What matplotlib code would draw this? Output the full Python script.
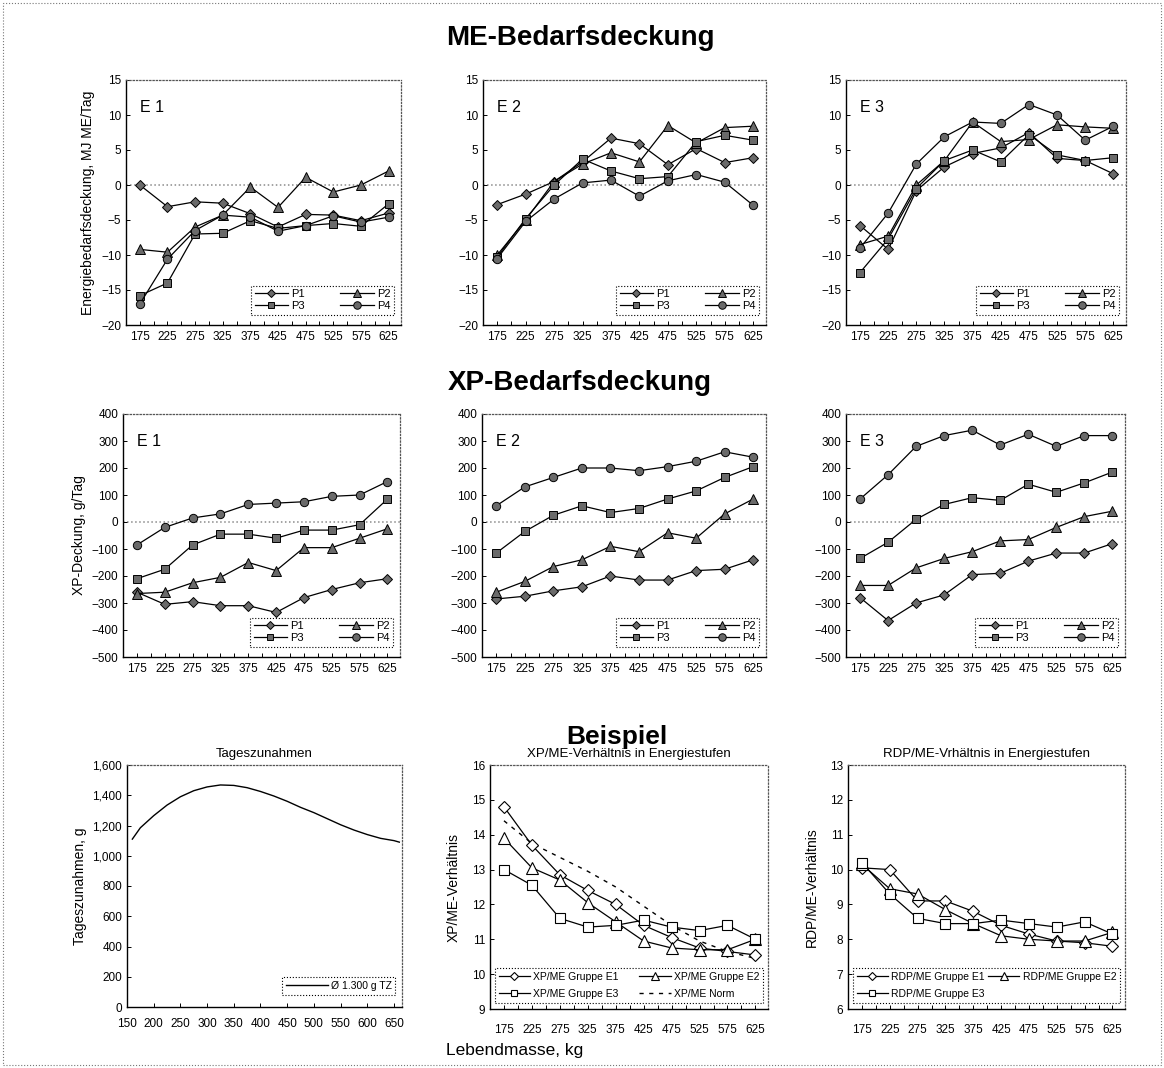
import matplotlib
matplotlib.use("Agg")
import matplotlib.pyplot as plt
from matplotlib.patches import Rectangle
from matplotlib.ticker import FuncFormatter

plt.rcParams['font.family'] = ['Liberation Sans', 'DejaVu Sans']

W, H = 1164, 1068

# Lebendmasse-Klassen (kg)
masse = ['175', '225', '275', '325', '375', '425', '475', '525', '575', '625']

# ME-Bedarfsdeckung, MJ ME/Tag
me_e1_p1 = [0.0, -3.1, -2.4, -2.6, -4.1, -6.0, -4.2, -4.3, -5.1, -4.0]
me_e1_p2 = [-9.2, -9.6, -6.0, -4.3, -0.3, -3.2, 1.1, -1.0, 0.0, 2.0]
me_e1_p3 = [-15.8, -14.0, -7.0, -6.9, -5.1, -6.2, -5.8, -5.5, -5.9, -2.7]
me_e1_p4 = [-17.0, -10.6, -6.5, -4.3, -4.6, -6.6, -5.8, -4.4, -5.3, -4.6]

me_e2_p1 = [-2.8, -1.3, 0.5, 3.3, 6.7, 5.9, 2.9, 5.2, 3.2, 3.9]
me_e2_p2 = [-10.0, -5.0, 0.5, 3.0, 4.6, 3.3, 8.5, 6.0, 8.2, 8.4]
me_e2_p3 = [-10.3, -4.8, 0.0, 3.7, 2.0, 0.9, 1.2, 6.2, 7.1, 6.4]
me_e2_p4 = [-10.5, -5.2, -2.0, 0.3, 0.7, -1.6, 0.6, 1.5, 0.4, -2.9]

me_e3_p1 = [-5.8, -9.2, -0.8, 2.6, 4.5, 5.3, 7.5, 3.8, 3.5, 1.6]
me_e3_p2 = [-8.5, -7.3, 0.0, 3.5, 9.0, 6.2, 6.5, 8.6, 8.3, 8.1]
me_e3_p3 = [-12.5, -7.7, -0.5, 3.5, 5.0, 3.3, 7.2, 4.3, 3.5, 3.9]
me_e3_p4 = [-9.0, -4.0, 3.0, 6.9, 9.0, 8.8, 11.5, 10.0, 6.4, 8.4]

# XP-Bedarfsdeckung, g/Tag
xp_e1_p1 = [-260, -305, -295, -310, -310, -335, -280, -250, -225, -210]
xp_e1_p2 = [-265, -260, -225, -205, -150, -180, -95, -95, -60, -25]
xp_e1_p3 = [-210, -175, -85, -45, -45, -60, -30, -30, -10, 85]
xp_e1_p4 = [-85, -20, 15, 30, 65, 70, 75, 95, 100, 150]

xp_e2_p1 = [-285, -275, -255, -240, -200, -215, -215, -180, -175, -140]
xp_e2_p2 = [-260, -220, -165, -140, -90, -110, -40, -60, 30, 85]
xp_e2_p3 = [-115, -35, 25, 60, 35, 50, 85, 115, 165, 205]
xp_e2_p4 = [60, 130, 165, 200, 200, 190, 205, 225, 260, 240]

xp_e3_p1 = [-280, -365, -300, -270, -195, -190, -145, -115, -115, -80]
xp_e3_p2 = [-235, -235, -170, -135, -110, -70, -65, -20, 20, 40]
xp_e3_p3 = [-135, -75, 10, 65, 90, 80, 140, 110, 145, 185]
xp_e3_p4 = [85, 175, 280, 320, 340, 285, 325, 280, 320, 320]

# Beispiel: Tageszunahmen
tz_masse = [160, 175, 200, 225, 250, 275, 300, 325, 350, 375, 400, 425,
            450, 475, 500, 525, 550, 575, 600, 625, 650, 660]
tz_gramm = [1110, 1185, 1265, 1335, 1390, 1430, 1455, 1468, 1465, 1450, 1425,
            1395, 1360, 1320, 1285, 1245, 1205, 1170, 1140, 1115, 1100, 1090]

# XP/ME-Verhaeltnis
xpme_e1 = [14.8, 13.7, 12.85, 12.4, 12.0, 11.4, 11.05, 10.75, 10.65, 10.55]
xpme_e2 = [13.9, 13.05, 12.7, 12.05, 11.5, 10.95, 10.75, 10.7, 10.7, 11.0]
xpme_e3 = [13.0, 12.55, 11.6, 11.35, 11.4, 11.55, 11.35, 11.25, 11.4, 11.0]
xpme_norm = [14.4, 13.75, 13.35, 12.95, 12.5, 11.95, 11.4, 10.95, 10.65, 10.45]

# RDP/ME-Verhaeltnis
rdpme_e1 = [10.05, 10.0, 9.1, 9.1, 8.8, 8.4, 8.15, 7.95, 7.9, 7.8]
rdpme_e2 = [10.15, 9.45, 9.3, 8.85, 8.45, 8.1, 8.0, 7.95, 7.95, 8.2]
rdpme_e3 = [10.2, 9.3, 8.6, 8.45, 8.45, 8.55, 8.45, 8.35, 8.5, 8.15]

fig = plt.figure(figsize=(W / 100, H / 100), dpi=100)


def ax_at(l, t, r, b):
    return fig.add_axes([l / W, 1 - b / H, (r - l) / W, (b - t) / H])


def style_frame(ax):
    for s in ['top', 'right']:
        ax.spines[s].set_linestyle(':')
        ax.spines[s].set_color('#555555')
        ax.spines[s].set_linewidth(0.9)
    for s in ['left', 'bottom']:
        ax.spines[s].set_linewidth(1.0)
    ax.tick_params(axis='both', labelsize=8.5, direction='in', length=3, width=0.7)


def cat_axis(ax, pad=4):
    pos = list(range(len(masse)))
    ax.set_xticks(pos)
    ax.set_xticklabels(masse)
    ax.set_xticks([p + 0.5 for p in pos[:-1]], minor=True)
    ax.tick_params(axis='x', which='major', length=0, pad=pad)
    ax.tick_params(axis='x', which='minor', direction='in', length=3, width=0.7)
    ax.set_xlim(-0.5, len(masse) - 0.55)


def dotted_legend(ax, order, **kw):
    h, l = ax.get_legend_handles_labels()
    leg = ax.legend([h[i] for i in order], [l[i] for i in order],
                    fancybox=False, framealpha=1, **kw)
    leg.get_frame().set_linestyle(':')
    leg.get_frame().set_edgecolor('black')
    leg.get_frame().set_linewidth(0.8)
    return leg


def bedarf_panel(ax, series, ylim, yticks, label):
    markers = ['D', '^', 's', 'o']
    sizes = [5, 6.5, 5.5, 6]
    x = range(len(masse))
    ax.axhline(0, color='#8a8a8a', linestyle=':', linewidth=1.1, zorder=1)
    for i, vals in enumerate(series):
        ax.plot(x, vals, color='black', linewidth=0.9, marker=markers[i],
                markersize=sizes[i], markerfacecolor='#6a6a6a',
                markeredgecolor='black', markeredgewidth=0.7,
                label='P%d' % (i + 1), zorder=3)
    ax.set_ylim(*ylim)
    ax.set_yticks(yticks)
    cat_axis(ax)
    style_frame(ax)
    ax.text(0.05, 0.87, label, transform=ax.transAxes, fontsize=11.5)
    dotted_legend(ax, [0, 2, 1, 3], ncol=2, loc='lower right',
                  bbox_to_anchor=(0.995, 0.02), fontsize=8,
                  handlelength=3.0, columnspacing=3.2, handletextpad=0.3,
                  borderpad=0.3, labelspacing=0.2, markerscale=0.9)


# Row 1: ME
me_sets = [[me_e1_p1, me_e1_p2, me_e1_p3, me_e1_p4],
           [me_e2_p1, me_e2_p2, me_e2_p3, me_e2_p4],
           [me_e3_p1, me_e3_p2, me_e3_p3, me_e3_p4]]
row1 = [(126, 80, 401, 325), (483, 80, 766, 325), (846, 80, 1126, 325)]
for k, (box, s) in enumerate(zip(row1, me_sets)):
    ax = ax_at(*box)
    bedarf_panel(ax, s, (-20, 15), range(-20, 16, 5), 'E %d' % (k + 1))
    if k == 0:
        ax.set_ylabel('Energiebedarfsdeckung, MJ ME/Tag', fontsize=10, labelpad=4)

# Row 2: XP
xp_sets = [[xp_e1_p1, xp_e1_p2, xp_e1_p3, xp_e1_p4],
           [xp_e2_p1, xp_e2_p2, xp_e2_p3, xp_e2_p4],
           [xp_e3_p1, xp_e3_p2, xp_e3_p3, xp_e3_p4]]
row2 = [(123, 414, 400, 657), (482, 414, 766, 657), (846, 414, 1125, 657)]
for k, (box, s) in enumerate(zip(row2, xp_sets)):
    ax = ax_at(*box)
    bedarf_panel(ax, s, (-500, 400), range(-500, 401, 100), 'E %d' % (k + 1))
    if k == 0:
        ax.set_ylabel('XP-Deckung, g/Tag', fontsize=10, labelpad=4)

# Row 3 left: Tageszunahmen
ax = ax_at(127, 765, 402, 1007)
ax.plot(tz_masse, tz_gramm, color='black', linewidth=1.0, label='Ø 1.300 g TZ')
ax.set_xlim(150, 665)
ax.set_xticks(range(150, 651, 50))
ax.set_ylim(0, 1600)
ax.set_yticks(range(0, 1601, 200))
ax.yaxis.set_major_formatter(FuncFormatter(lambda v, p: '{:,.0f}'.format(v)))
style_frame(ax)
ax.tick_params(axis='x', pad=8)
ax.set_title('Tageszunahmen', fontsize=9.5, pad=6)
ax.set_ylabel('Tageszunahmen, g', fontsize=10, labelpad=4)
dotted_legend(ax, [0], loc='lower right', bbox_to_anchor=(0.995, 0.03),
              fontsize=7.5, handlelength=4.0, handletextpad=0.3, borderpad=0.35)


def ratio_panel(ax, series, names, ylim, title, ylabel, norm=None):
    markers = ['D', '^', 's']
    sizes = [6, 8, 7.5]
    x = range(len(masse))
    for i, vals in enumerate(series):
        ax.plot(x, vals, color='black', linewidth=0.9, marker=markers[i],
                markersize=sizes[i], markerfacecolor='white',
                markeredgecolor='black', markeredgewidth=0.8,
                label=names[i], zorder=3)
    if norm is not None:
        ax.plot(x, norm, color='black', linewidth=1.0, linestyle=(0, (3, 4)),
                label='XP/ME Norm', zorder=2)
    order = [0, 2, 1, 3] if norm is not None else [0, 2, 1]
    ax.set_ylim(*ylim)
    ax.set_yticks(range(ylim[0], ylim[1] + 1))
    cat_axis(ax, pad=11)
    style_frame(ax)
    ax.set_title(title, fontsize=9.5, pad=6)
    ax.set_ylabel(ylabel, fontsize=10, labelpad=8)
    dotted_legend(ax, order, ncol=2, loc='lower left',
                  bbox_to_anchor=(0.0, 0.005, 1.0, 0.2), mode='expand',
                  fontsize=7.5, handlelength=3.0, handletextpad=0.3,
                  borderpad=0.35, labelspacing=0.7, columnspacing=0.6,
                  markerscale=0.65)


ax = ax_at(490, 765, 768, 1009)
ratio_panel(ax, [xpme_e1, xpme_e2, xpme_e3],
            ['XP/ME Gruppe E1', 'XP/ME Gruppe E2', 'XP/ME Gruppe E3'],
            (9, 16), 'XP/ME-Verhältnis in Energiestufen', 'XP/ME-Verhältnis',
            norm=xpme_norm)

ax = ax_at(848, 765, 1125, 1009)
ratio_panel(ax, [rdpme_e1, rdpme_e2, rdpme_e3],
            ['RDP/ME Gruppe E1', 'RDP/ME Gruppe E2', 'RDP/ME Gruppe E3'],
            (6, 13), 'RDP/ME-Vrhältnis in Energiestufen', 'RDP/ME-Verhältnis')

fig.text(515 / W, 1 - 1051 / H, 'Lebendmasse, kg', ha='center', va='center',
         fontsize=12.5)

# section headings
fig.text(580 / W, 1 - 38 / H, 'ME-Bedarfsdeckung', ha='center', va='center',
         fontsize=20, fontweight='bold')
fig.text(580 / W, 1 - 383 / H, 'XP-Bedarfsdeckung', ha='center', va='center',
         fontsize=20, fontweight='bold')
fig.text(617 / W, 1 - 737 / H, 'Beispiel', ha='center', va='center',
         fontsize=19, fontweight='bold')

# outer frame
fig.patches.append(Rectangle((3 / W, 3 / H), 1 - 6 / W, 1 - 6 / H,
                             transform=fig.transFigure, fill=False,
                             edgecolor='#777777', linewidth=0.8, linestyle=':'))

fig.savefig('out.png', dpi=100)
